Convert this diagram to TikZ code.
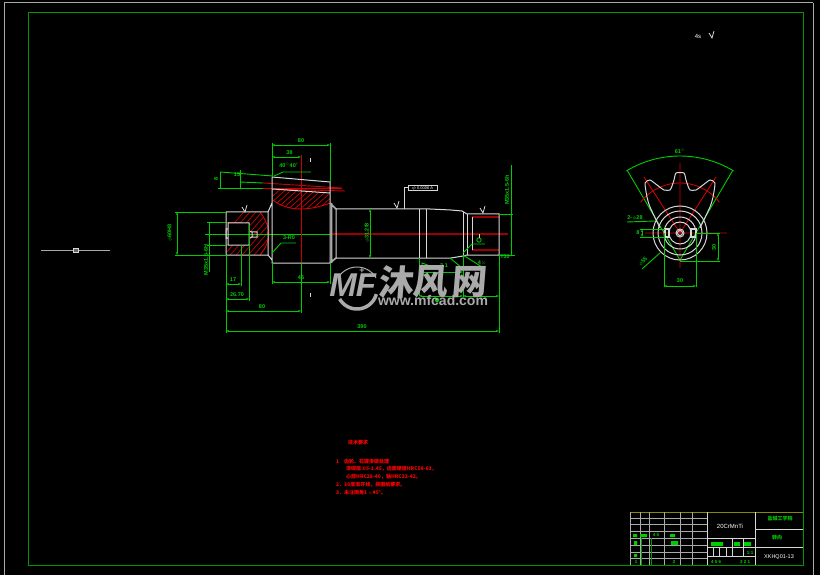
\documentclass[tikz,border=0pt]{standalone}
\usepackage{fontspec}
\setmainfont{Liberation Sans}
\newfontfamily\cjk{Noto Sans CJK SC}
\usetikzlibrary{arrows.meta}
\definecolor{dimgreen}{RGB}{0,205,0}
\definecolor{framegreen}{RGB}{0,150,0}
\definecolor{partgray}{RGB}{215,215,215}
\definecolor{markgray}{RGB}{170,170,170}
\tikzset{
  partline/.style={draw=partgray, line width=1pt},
  heavyline/.style={draw=markgray, line width=1.6pt},
  dimline/.style={draw=dimgreen, line width=0.9pt},
  dimarrow/.style={dimline, {Stealth[length=3pt,width=2pt]}-{Stealth[length=3pt,width=2pt]}},
  axisline/.style={draw=red!80!black, line width=0.9pt},
  darkaxis/.style={draw=red!60!black, line width=1.3pt},
  hatchline/.style={draw=red!85!black, line width=0.6pt},
  gridline/.style={draw=markgray, line width=1pt},
  dimtext/.style={text=dimgreen, font=\fontsize{5.5}{6}\selectfont\bfseries, inner sep=0pt},
  parttext/.style={text=white, font=\fontsize{6}{7}\selectfont, inner sep=0pt},
  notetext/.style={text=red, font=\cjk\fontsize{5}{7}\selectfont\bfseries, inner sep=0pt, anchor=west},
  markfont/.style={text=markgray, font=\cjk\fontsize{35}{37}\selectfont\bfseries, inner sep=0pt, xslant=0.08},
  greenbar/.style={fill=dimgreen, draw=none}
}
\begin{document}
\begin{tikzpicture}[x=1pt, y=-1pt]
\useasboundingbox (0,0) rectangle (820,575);
\fill[black] (0,0) rectangle (820,575);
% sheet frames
\draw[draw=markgray, line width=1pt] (4,3) -- (813,3) (4,3) -- (4,575) (813,3) -- (813,575);
\draw[draw=framegreen, line width=1pt] (28,13) rectangle (803,565);
% left symbol
\draw[draw=markgray, line width=1pt] (41,250) -- (110,250);
\draw[partline, fill=black!60] (73.5,248) rectangle (78,252);
% hatching, hub and gear tooth
\begin{scope}
\clip (226,212) -- (260,212) .. controls (266,220) and (269,228) .. (269,234)
      .. controls (269,240) and (266,248) .. (260,255) -- (226,255) -- cycle;
\foreach \k in {0,6,...,100}
  \draw[hatchline] (200+\k,262) -- (250+\k,205);
\end{scope}
\fill[black] (228,223) rectangle (249,245);
\begin{scope}
\clip (273,189) -- (330,193) -- (330,203) .. controls (318,208) and (306,209) .. (301,209)
      .. controls (290,209) and (280,206) .. (273,200) -- cycle;
\foreach \k in {0,6,...,90}
  \draw[hatchline] (255+\k,212) -- (285+\k,185);
\end{scope}
\draw[hatchline, line width=0.9pt] (273,200) .. controls (280,206) and (290,209) .. (301,209)
      .. controls (306,209) and (318,208) .. (330,203);
\draw[hatchline, line width=0.9pt] (260,212) .. controls (266,220) and (269,228) .. (269,234)
      .. controls (269,240) and (266,248) .. (260,255);
% axes
\draw[dimline] (205,234) -- (330,234);
\draw[darkaxis] (330,234) -- (508,234);
\draw[axisline] (301,155) -- (301,263);
\draw[axisline] (263,188) -- (342,188);
\draw[axisline] (263,183) -- (342,188);
\draw[axisline] (273,189) -- (345,191);
\draw[axisline] (226,222) -- (242,222);
\draw[darkaxis] (472,217) -- (499,217) (472,250) -- (499,250);
% shaft outline
\draw[partline] (226,212) -- (268,212) -- (272,203)
      (226,255) -- (268,255) -- (272,260)
      (226,212) -- (226,255) (268,212) -- (268,255)
      (272,177) -- (330,182) (272,177) -- (272,263) -- (330,263) (330,182) -- (330,263)
      (273,189) -- (330,193);
\draw[heavyline] (331.5,203) -- (331.5,263) (330,203) -- (336,209) (330,263) -- (336,258);
\draw[partline] (336,209) -- (430,209) -- (451,210) -- (462,211) -- (467,214) -- (499,214) -- (499,255) -- (467,255) -- (463,256) -- (451,258) -- (336,258) -- cycle;
\draw[partline] (419,209) -- (419,258) (426,209) -- (426,258) (463,212) -- (463,256)
      (467,214) -- (467,255) (472,217) -- (472,250);
\draw[partline] (228,223) rectangle (249,245) (226,229) rectangle (228,238) (252,232) rectangle (257,237)
      (249,231) -- (252,232) (249,238) -- (252,237);
% dimensions of the shaft
\draw[dimline] (272,143) -- (272,177) (330,143) -- (330,182);
\draw[dimarrow] (272,145) -- (330,145);
\draw[dimarrow] (272,157) -- (301,157);
\draw[dimline] (272,263) -- (272,284) (330,263) -- (330,284) (301,263) -- (301,313);
\draw[dimarrow] (272,282) -- (330,282);
\draw[dimline] (226,255) -- (226,333);
\draw[dimarrow] (226,311) -- (301,311);
\draw[dimarrow] (226,331) -- (499,331);
\draw[dimline] (241,245) -- (241,286) (249,225) -- (249,301);
\draw[dimarrow] (226,284) -- (241,284);
\draw[dimarrow] (226,299) -- (249,299);
\draw[dimline] (175,212) -- (226,212) (175,255) -- (226,255);
\draw[dimarrow] (177,212) -- (177,255);
\draw[dimline] (207,222) -- (226,222) (207,245) -- (226,245);
\draw[dimline] (209,222) -- (209,272);
\draw[dimline] (220,172) -- (220,188) (240,170) -- (240,188) (218,188) -- (263,188);
\draw[dimline] (220,172) -- (273,176) (240,182) -- (263,183);
\draw[dimline] (274,176) -- (283,172) -- (311,172);
\draw[dimline] (272,253) -- (281,243) -- (296,243);
\draw[dimarrow] (370,209) -- (370,258);
\draw[dimline] (499,214) -- (513,214) (499,255) -- (515,255) (511,165) -- (511,255);
\draw[dimline] (463,253) -- (472,244) -- (485,244);
\draw[dimline] (463,255) -- (482,267) (450,258) -- (462,268);
\draw[dimline] (422,263) -- (433,267) -- (422,268) -- cycle;
\draw[dimline] (419,258) -- (419,296) (463,256) -- (463,297) (499,255) -- (499,333);
\draw[dimarrow] (419,272) -- (463,272);
\draw[dimarrow] (419,296) -- (463,296);
\draw[dimarrow] (463,296) -- (499,296);
\draw[draw=dimgreen, line width=0.8pt] (479,240) circle (2.2pt);
\draw[partline] (479,234) -- (479,238);
\draw[partline] (310,158) -- (310,162) (310,293) -- (310,297);
\fill[dimgreen] (437,300) circle (2.2pt);
% tolerance frame
\draw[partline] (404,209) -- (404,188) -- (408,188);
\draw[partline] (408,186) rectangle (437,191);
\node[parttext, font=\fontsize{4}{5}\selectfont] (tolbox) at (422.5,188.5) {$\phi$ 0.0006 A};
% roughness marks
\foreach \px/\py/\pname in {245/209/a,397/205/b,483/210/c,712/35/d}
  \draw[partline, line width=0.8pt] (\px-3,\py-2) -- (\px,\py+3) -- (\px+2,\py-4);
\node[parttext] (ruflabel) at (698,36) {4s};
% shaft labels
\node[dimtext] (dimtop) at (301,141) {80};
\node[dimtext] (dimthirty) at (289.5,153) {38};
\node[dimtext] (dimangle) at (289,165) {40$^{\circ}$40$'$};
\node[dimtext, rotate=90] (dimeight) at (216,179) {8};
\node[dimtext] (dimfifteen) at (237,174.5) {15};
\node[dimtext] (dimcham) at (289,238) {3-R0};
\node[dimtext] (dimforty) at (301,278) {45};
\node[dimtext] (dimeighty) at (262,307) {80};
\node[dimtext] (dimseven) at (233,280) {17};
\node[dimtext] (dimtwenty) at (237,295) {26.70};
\node[dimtext] (dimtotal) at (362,327) {390};
\node[dimtext, rotate=90] (dimhub) at (170,233) {$\phi$60H8};
\node[dimtext, rotate=90] (dimbore) at (206,260) {M35x1.5-6H};
\node[dimtext, rotate=90] (dimshaft) at (367,233) {$\phi$31.2f8};
\node[dimtext, rotate=90] (dimthread) at (507,190) {M35x1.5-6h};
\node[dimtext] (dimrelief) at (505,257) {T30};
\node[dimtext] (dimthree) at (444,266) {3.1};
\node[dimtext] (dimnote) at (482,263) {4$\times$};
\node[dimtext] (dimbelow) at (441,291) {4};
\node[dimtext] (dimsmall) at (482,291) {6};
% sprocket end view
\draw[dimline] plot[domain=-31:31,samples=30] ({680+104*sin(\x)},{260-104*cos(\x)});
\draw[dimline] (627,170) -- (680,260) -- (733,170);
\draw[axisline] plot[domain=-52:52,samples=30] ({680+50*sin(\x)},{233-50*cos(\x)});
\draw[axisline] (645,233) -- (727,233) (680,163) -- (680,268)
      (680,233) -- (644,177) (680,233) -- (716,177);
\draw[partline] plot[smooth,tension=0.35] coordinates {(660,228) (650,207) (647,197) (645,183) (650,180) (657,185) (664,190) (670,190) (672,186) (674,180) (676,173) (684,173) (686,180) (688,186) (690,190) (696,190) (703,185) (710,180) (715,183) (713,197) (710,207) (700,228)};
\foreach \rad in {27,22,16,11,4,2.5}
  \draw[partline] (680,233) circle (\rad pt);
\draw[heavyline, draw=partgray] (665,229) rectangle (669,237) (691,229) rectangle (696,237);
\draw[dimline] (640,229) -- (665,229) (640,237) -- (665,237) (664,233) -- (664,287) (696,233) -- (696,287)
      (696,233) -- (720,233) (680,261) -- (720,261);
\draw[dimarrow] (642,229) -- (642,237);
\draw[dimarrow] (718,233) -- (718,261);
\draw[dimarrow] (664,286) -- (696,286);
\draw[dimline] (627,222) -- (655,221);
\draw[dimline] (642,269) -- (660,253);
\node[dimtext] (angtop) at (680,151) {61$^{\circ}$};
\node[dimtext] (viewslot) at (638,233) {8};
\node[dimtext, rotate=90] (viewheight) at (714,247) {30};
\node[dimtext] (viewwidth) at (680,281) {30};
\node[dimtext] (viewhole) at (635,218) {2-$\phi$28};
\node[dimtext, rotate=45] (viewdia) at (643,262) {$\phi$55};
% title block
\draw[draw=olive, line width=1pt] (630,512) -- (803,512);
\draw[gridline] (630,512) -- (630,565);
\foreach \vx in {640,649,664,680,692}
  \draw[gridline] (\vx,512) -- (\vx,565);
\foreach \hy in {518,524,531,538,545,552,558}
  \draw[gridline] (630,\hy) -- (707,\hy);
\draw[draw=partgray, line width=1pt] (707,512) -- (707,565) (755,512) -- (755,565)
      (707,538) -- (755,538) (707,556) -- (755,556) (755,529) -- (803,529) (755,547) -- (803,547)
      (732,538) -- (732,556) (743,538) -- (743,556) (707,547) -- (755,547)
      (713,547) -- (713,556) (719,547) -- (719,556) (726,547) -- (726,556);
\draw[draw=framegreen, line width=1pt] (641,538) -- (641,565) (651,538) -- (651,565);
\fill[greenbar] (640,534) rectangle (647,537) (633,534) rectangle (637,537) (670,534) rectangle (675,537)
      (671,541) rectangle (678,545) (634,541) rectangle (637,545) (634,554) rectangle (637,557)
      (711,542) rectangle (723,546) (734,542) rectangle (740,546) (744,542) rectangle (751,546);
\node[parttext] (tbmaterial) at (730,526) {20CrMnTi};
\node[text=dimgreen, font=\cjk\fontsize{5}{7}\selectfont\bfseries, inner sep=0pt] (tbschool) at (780,519) {盐城工学院};
\node[text=dimgreen, font=\cjk\fontsize{5}{7}\selectfont\bfseries, inner sep=0pt] (tbname) at (777,538) {转向};
\node[parttext, font=\fontsize{5.5}{7}\selectfont] (tbcode) at (779,557) {XKHQ01-13};
\node[dimtext, font=\fontsize{4.5}{5}\selectfont\bfseries] (tbscale) at (750,553) {1:1};
\node[dimtext, font=\fontsize{4.5}{5}\selectfont\bfseries] (tbrowa) at (656,535) {4 5};
\node[dimtext, font=\fontsize{4.5}{5}\selectfont\bfseries] (tbrowb) at (716,562) {4 5 6};
\node[dimtext, font=\fontsize{4.5}{5}\selectfont\bfseries] (tbrowc) at (745,562) {3 2 1};
\node[dimtext, font=\fontsize{4.5}{5}\selectfont\bfseries] (tbrowd) at (636,562) {1};
\node[dimtext, font=\fontsize{4.5}{5}\selectfont\bfseries] (tbrowe) at (674,562) {2};
% notes
\node[notetext] (notehead) at (348,443) {技术要求};
\node[notetext] (noteone) at (336,462) {1\quad 齿轮、花键渗碳处理};
\node[notetext] (noteonea) at (346,469) {渗碳层.05-1.45，齿面硬度HRC58-63，};
\node[notetext] (noteoneb) at (346,477) {心部HRC28-40，轴HRC32-42。};
\node[notetext] (notetwo) at (336,485) {2．30度渐开线，按图纸要求。};
\node[notetext] (notethree) at (336,493) {3．未注倒角1$\times$45°。};
% watermark
\draw[draw=markgray, line width=1pt] plot[domain=-150:-30,samples=20] ({357+22*cos(\x)},{289+22*sin(\x)});
\draw[draw=markgray, line width=3.5pt] plot[domain=15:150,samples=20] ({357+20*cos(\x)},{289+20*sin(\x)});
\node[text=markgray, font=\fontsize{33}{33}\selectfont\bfseries\itshape, inner sep=0pt] (logom) at (343,285) {M};
\node[text=markgray, font=\fontsize{33}{33}\selectfont\bfseries\itshape, inner sep=0pt] (logof) at (366,285) {F};
\node[text=markgray, font=\fontsize{9}{9}\selectfont\bfseries, inner sep=0pt] (logostar) at (362,271) {+};
\node[markfont] (markone) at (397,282) {沐};
\node[markfont] (marktwo) at (431,282) {风};
\node[markfont] (markthree) at (470,282) {网};
\node[text=markgray, font=\fontsize{14}{14}\selectfont\bfseries, inner sep=0pt] (markurl) at (433,300) {www.mfcad.com};
\end{tikzpicture}
\end{document}
